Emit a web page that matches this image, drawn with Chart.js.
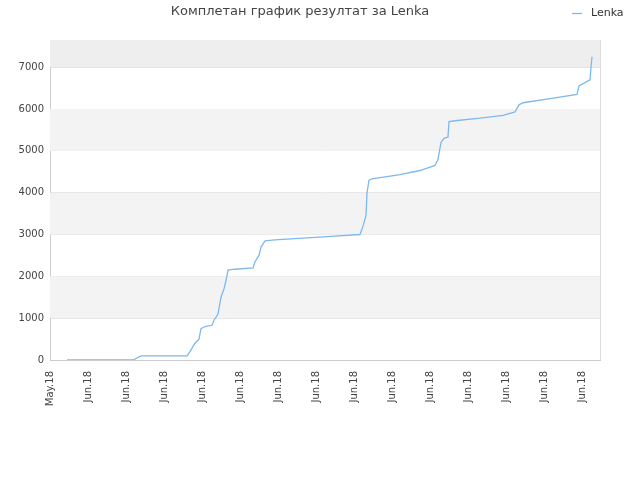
<!DOCTYPE html>
<html><head><meta charset="utf-8">
<script src="https://cdn.jsdelivr.net/npm/chart.js@4"></script>
<style>body{margin:0;background:#fff}#w{width:640px;height:480px}</style>
</head><body><div id="w"><canvas id="c"></canvas></div>
<script>
const tickLabels=["May.18","Jun.18","Jun.18","Jun.18","Jun.18","Jun.18","Jun.18","Jun.18","Jun.18","Jun.18","Jun.18","Jun.18","Jun.18","Jun.18","Jun.18"];
const xPx=[67,133,141,187,190,195,199,201,205,212,214,218,221,224,226,228,235,253,255,259,261,265,275,295,315,335,360,363,366,367,369,372,400,420,435,438,441,444,448,449,455,480,503,515,519,523,550,577,579,590,591,592];
const yVal=[0,0,100,100,200,400,500,750,800,830,950,1100,1500,1700,1900,2150,2170,2200,2350,2500,2700,2850,2870,2900,2930,2960,3000,3200,3450,4000,4300,4330,4430,4530,4650,4800,5200,5300,5330,5700,5720,5780,5850,5930,6100,6150,6250,6350,6550,6700,7000,7250];
const xVal=xPx.map(p=>(p-50)/38);
const pts=xVal.map((x,i)=>({x:x,y:yVal[i]}));
const bands={id:'bands',beforeDatasetsDraw(ch){const {ctx,chartArea:a,scales:{y}}=ch;ctx.save();
 [[1000,2000,'#f3f3f3'],[3000,4000,'#f3f3f3'],[5000,6000,'#f3f3f3'],[7000,7650,'#eeeeee']].forEach(b=>{ctx.fillStyle=b[2];const t=y.getPixelForValue(b[1]),bt=y.getPixelForValue(b[0]);ctx.fillRect(a.left,t,a.right-a.left,bt-t);});
 ctx.strokeStyle='#dddddd';ctx.lineWidth=1;ctx.beginPath();ctx.moveTo(a.right+0.5,a.top);ctx.lineTo(a.right+0.5,a.bottom);ctx.stroke();
 ctx.restore();}};
const leg={id:'leg',afterDraw(ch){const ctx=ch.ctx;ctx.save();ctx.strokeStyle='#7db8ee';ctx.lineWidth=1.3;ctx.beginPath();ctx.moveTo(572,13.5);ctx.lineTo(582,13.5);ctx.stroke();
 ctx.fillStyle='#333';ctx.font='11px "DejaVu Sans"';ctx.textBaseline='middle';ctx.fillText('Lenka',591,13);ctx.restore();}};
new Chart(document.getElementById('c'),{type:'line',
 data:{datasets:[{label:'Lenka',data:pts,borderColor:'#7db8ee',borderWidth:1.3,pointRadius:0,fill:false,tension:0}]},
 options:{responsive:true,maintainAspectRatio:false,animation:false,
  layout:{padding:{right:40,left:0,top:0,bottom:0}},
  plugins:{legend:{display:false},tooltip:{enabled:false},
   title:{display:true,text:'Комплетан график резултат за Lenka',color:'#444',font:{family:'DejaVu Sans',size:13,weight:'normal'},padding:{top:4,bottom:20.4}}},
  scales:{
   x:{type:'linear',min:0,max:550/38,afterFit(s){s.height=120;},
    afterBuildTicks(s){s.ticks=tickLabels.map((_,i)=>({value:i}));},
    ticks:{autoSkip:false,maxRotation:90,minRotation:90,color:'#444',font:{family:'DejaVu Sans',size:10},callback:(v,i)=>tickLabels[i]},
    grid:{display:false},border:{color:'#ccc'}},
   y:{min:0,max:7650,afterFit(s){s.width=50;},
    afterBuildTicks(s){s.ticks=[0,1000,2000,3000,4000,5000,6000,7000].map(v=>({value:v}));},
    ticks:{color:'#444',font:{family:'DejaVu Sans',size:10},padding:6,callback:v=>String(v)},
    grid:{color:'#e2e2e2',drawTicks:false},border:{color:'#ccc'}}}},
 plugins:[bands,leg]});
</script></body></html>
